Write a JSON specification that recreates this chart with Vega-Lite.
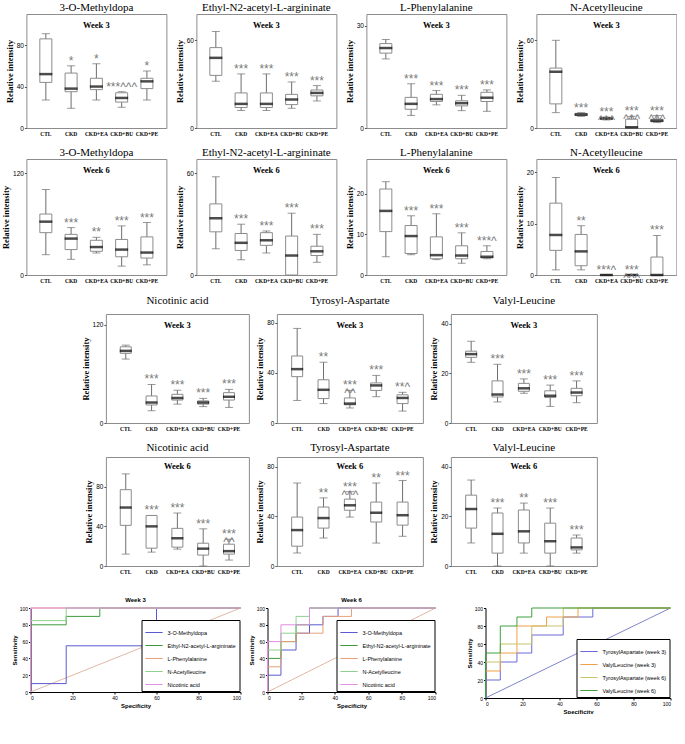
{
"$schema": "https://vega.github.io/schema/vega-lite/v6.json",
"background": "white",
"padding": {"left": 1, "top": 1, "right": 0, "bottom": 0},
"data": {"name": "box"},
"datasets": {
"box": [
{"p":1,"g":"CTL","lo":27,"q1":44,"md":52,"q3":86,"hi":91,"s":""},
{"p":1,"g":"CKD","lo":19,"q1":35,"md":38,"q3":53,"hi":60,"s":"*"},
{"p":1,"g":"CKD+EA","lo":27,"q1":37,"md":40,"q3":48,"hi":62,"s":"*"},
{"p":1,"g":"CKD+BU","lo":20,"q1":25,"md":29,"q3":34,"hi":35,"s":"***^^^"},
{"p":1,"g":"CKD+PE","lo":27,"q1":38,"md":45,"q3":48,"hi":55,"s":"*"},
{"p":2,"g":"CTL","lo":32,"q1":36,"md":48,"q3":55,"hi":66,"s":""},
{"p":2,"g":"CKD","lo":12,"q1":14,"md":16.5,"q3":24,"hi":37,"s":"***"},
{"p":2,"g":"CKD+EA","lo":12,"q1":14,"md":16.5,"q3":24,"hi":37,"s":"***"},
{"p":2,"g":"CKD+BU","lo":13.5,"q1":16,"md":19.5,"q3":23,"hi":31.5,"s":"***"},
{"p":2,"g":"CKD+PE","lo":18.5,"q1":22,"md":24,"q3":26,"hi":29,"s":"***"},
{"p":3,"g":"CTL","lo":20.3,"q1":22,"md":23.5,"q3":24.8,"hi":26,"s":""},
{"p":3,"g":"CKD","lo":3.7,"q1":5.5,"md":7.1,"q3":9,"hi":13,"s":"***"},
{"p":3,"g":"CKD+EA","lo":6.8,"q1":7.8,"md":8.5,"q3":9.9,"hi":11,"s":"***"},
{"p":3,"g":"CKD+BU","lo":5.1,"q1":6.5,"md":7.3,"q3":8,"hi":9.6,"s":"***"},
{"p":3,"g":"CKD+PE","lo":4.9,"q1":7.8,"md":8.9,"q3":10.5,"hi":11.2,"s":"***"},
{"p":4,"g":"CTL","lo":10.5,"q1":16.5,"md":38.5,"q3":41,"hi":60,"s":""},
{"p":4,"g":"CKD","lo":8,"q1":8.5,"md":9.2,"q3":10,"hi":10.5,"s":"***"},
{"p":4,"g":"CKD+EA","lo":5.5,"q1":6,"md":6.5,"q3":7,"hi":7.5,"s":"***\n^^^"},
{"p":4,"g":"CKD+BU","lo":0,"q1":0,"md":0.5,"q3":6,"hi":8,"s":"***\n^^^"},
{"p":4,"g":"CKD+PE","lo":3.7,"q1":4.3,"md":5,"q3":6,"hi":8.5,"s":"***\n^^^"},
{"p":5,"g":"CTL","lo":24,"q1":50,"md":63,"q3":72,"hi":101,"s":""},
{"p":5,"g":"CKD","lo":18.5,"q1":30,"md":43,"q3":48,"hi":56,"s":"***"},
{"p":5,"g":"CKD+EA","lo":26,"q1":28,"md":33,"q3":41,"hi":44.5,"s":"**"},
{"p":5,"g":"CKD+BU","lo":10.5,"q1":21.5,"md":30,"q3":42,"hi":58,"s":"***"},
{"p":5,"g":"CKD+PE","lo":12,"q1":20,"md":26.5,"q3":45,"hi":62,"s":"***"},
{"p":6,"g":"CTL","lo":15.5,"q1":25.5,"md":33.5,"q3":42,"hi":58,"s":""},
{"p":6,"g":"CKD","lo":9,"q1":14.5,"md":19,"q3":24.5,"hi":30,"s":"***"},
{"p":6,"g":"CKD+EA","lo":13,"q1":17.5,"md":20.5,"q3":25,"hi":26,"s":"***"},
{"p":6,"g":"CKD+BU","lo":0,"q1":0,"md":11.5,"q3":23,"hi":36.5,"s":"***"},
{"p":6,"g":"CKD+PE","lo":7.5,"q1":11.5,"md":14,"q3":17,"hi":24,"s":"***"},
{"p":7,"g":"CTL","lo":4.5,"q1":10.7,"md":15.8,"q3":21.2,"hi":23,"s":""},
{"p":7,"g":"CKD","lo":5,"q1":5.3,"md":9.6,"q3":12.2,"hi":14.6,"s":"***"},
{"p":7,"g":"CKD+EA","lo":3.8,"q1":4,"md":4.9,"q3":9.4,"hi":15.1,"s":"***"},
{"p":7,"g":"CKD+BU","lo":2.9,"q1":4,"md":4.8,"q3":7.2,"hi":10.4,"s":"***"},
{"p":7,"g":"CKD+PE","lo":4,"q1":4.2,"md":4.5,"q3":5.8,"hi":7.2,"s":"***^"},
{"p":8,"g":"CTL","lo":1,"q1":4.8,"md":7.8,"q3":14,"hi":19,"s":""},
{"p":8,"g":"CKD","lo":1,"q1":1.8,"md":4.6,"q3":7.9,"hi":9.6,"s":"**"},
{"p":8,"g":"CKD+EA","lo":0,"q1":0,"md":0,"q3":0,"hi":0,"s":"***^"},
{"p":8,"g":"CKD+BU","lo":0,"q1":0,"md":0,"q3":0,"hi":0,"s":"***\n^^^"},
{"p":8,"g":"CKD+PE","lo":0,"q1":0,"md":0,"q3":3.5,"hi":7.7,"s":"***"},
{"p":9,"g":"CTL","lo":78,"q1":85,"md":88,"q3":93,"hi":95,"s":""},
{"p":9,"g":"CKD","lo":15,"q1":22,"md":25,"q3":33,"hi":47,"s":"***"},
{"p":9,"g":"CKD+EA","lo":23,"q1":28,"md":30.5,"q3":35,"hi":40,"s":"***"},
{"p":9,"g":"CKD+BU","lo":20,"q1":23,"md":25,"q3":27,"hi":30,"s":"***"},
{"p":9,"g":"CKD+PE","lo":19,"q1":28,"md":32,"q3":37,"hi":41,"s":"***"},
{"p":10,"g":"CTL","lo":18,"q1":37,"md":43,"q3":53.5,"hi":75.5,"s":""},
{"p":10,"g":"CKD","lo":15.5,"q1":19.5,"md":26.5,"q3":34.5,"hi":48.5,"s":"**"},
{"p":10,"g":"CKD+EA","lo":12,"q1":14.5,"md":15.5,"q3":20,"hi":26,"s":"***\n^^"},
{"p":10,"g":"CKD+BU","lo":21,"q1":26,"md":30,"q3":32,"hi":38,"s":"***"},
{"p":10,"g":"CKD+PE","lo":9.5,"q1":15.5,"md":20,"q3":22.5,"hi":24.5,"s":"**^"},
{"p":11,"g":"CTL","lo":24.5,"q1":26.5,"md":27.8,"q3":29,"hi":33,"s":""},
{"p":11,"g":"CKD","lo":8.5,"q1":10.5,"md":11.5,"q3":17,"hi":23.7,"s":"***"},
{"p":11,"g":"CKD+EA","lo":12,"q1":12.8,"md":14,"q3":16,"hi":17.8,"s":"***"},
{"p":11,"g":"CKD+BU","lo":6.7,"q1":10.3,"md":11,"q3":13,"hi":15.3,"s":"***"},
{"p":11,"g":"CKD+PE","lo":8.2,"q1":11,"md":12.3,"q3":14,"hi":17,"s":"***"},
{"p":12,"g":"CTL","lo":12,"q1":41,"md":59,"q3":77,"hi":93,"s":""},
{"p":12,"g":"CKD","lo":14,"q1":18,"md":40,"q3":51,"hi":51,"s":"***"},
{"p":12,"g":"CKD+EA","lo":17,"q1":19,"md":28,"q3":38,"hi":53.5,"s":"***"},
{"p":12,"g":"CKD+BU","lo":0,"q1":11,"md":17.5,"q3":23,"hi":37.5,"s":"***"},
{"p":12,"g":"CKD+PE","lo":6,"q1":12,"md":15,"q3":22,"hi":27,"s":"***\n^^"},
{"p":13,"g":"CTL","lo":10.5,"q1":16,"md":29,"q3":39.5,"hi":67,"s":""},
{"p":13,"g":"CKD","lo":22.6,"q1":30.6,"md":38.7,"q3":47.6,"hi":55,"s":"**"},
{"p":13,"g":"CKD+EA","lo":39.5,"q1":45,"md":49,"q3":54,"hi":60,"s":"***\n^^^"},
{"p":13,"g":"CKD+BU","lo":18.5,"q1":35.5,"md":43,"q3":51.6,"hi":67,"s":"**"},
{"p":13,"g":"CKD+PE","lo":24,"q1":33,"md":41,"q3":51.6,"hi":69,"s":"***"},
{"p":14,"g":"CTL","lo":9.3,"q1":15.3,"md":23,"q3":28.6,"hi":34.7,"s":""},
{"p":14,"g":"CKD","lo":0,"q1":5.2,"md":13,"q3":21.4,"hi":23.4,"s":"***"},
{"p":14,"g":"CKD+EA","lo":5.2,"q1":9.3,"md":14,"q3":22.6,"hi":25.4,"s":"**"},
{"p":14,"g":"CKD+BU","lo":0,"q1":5.2,"md":10,"q3":17.3,"hi":23.4,"s":"***"},
{"p":14,"g":"CKD+PE","lo":5.2,"q1":6.5,"md":7.5,"q3":11.3,"hi":12.5,"s":"***"}
],
"roc": [
{"c":1,"s":"ref","i":0,"x":0,"y":0},{"c":1,"s":"ref","i":1,"x":100,"y":100},
{"c":1,"s":"3-O-Methyldopa","i":0,"x":0,"y":0},{"c":1,"s":"3-O-Methyldopa","i":1,"x":0,"y":10},{"c":1,"s":"3-O-Methyldopa","i":2,"x":17,"y":10},{"c":1,"s":"3-O-Methyldopa","i":3,"x":17,"y":55},{"c":1,"s":"3-O-Methyldopa","i":4,"x":60,"y":55},{"c":1,"s":"3-O-Methyldopa","i":5,"x":60,"y":100},{"c":1,"s":"3-O-Methyldopa","i":6,"x":100,"y":100},
{"c":1,"s":"Ethyl-N2-acetyl-L-argininate","i":0,"x":0,"y":0},{"c":1,"s":"Ethyl-N2-acetyl-L-argininate","i":1,"x":0,"y":80},{"c":1,"s":"Ethyl-N2-acetyl-L-argininate","i":2,"x":17,"y":80},{"c":1,"s":"Ethyl-N2-acetyl-L-argininate","i":3,"x":17,"y":90},{"c":1,"s":"Ethyl-N2-acetyl-L-argininate","i":4,"x":33,"y":90},{"c":1,"s":"Ethyl-N2-acetyl-L-argininate","i":5,"x":33,"y":100},{"c":1,"s":"Ethyl-N2-acetyl-L-argininate","i":6,"x":100,"y":100},
{"c":1,"s":"L-Phenylalanine","i":0,"x":0,"y":0},{"c":1,"s":"L-Phenylalanine","i":1,"x":0,"y":100},{"c":1,"s":"L-Phenylalanine","i":2,"x":100,"y":100},
{"c":1,"s":"N-Acetylleucine","i":0,"x":0,"y":0},{"c":1,"s":"N-Acetylleucine","i":1,"x":0,"y":85},{"c":1,"s":"N-Acetylleucine","i":2,"x":17,"y":85},{"c":1,"s":"N-Acetylleucine","i":3,"x":17,"y":100},{"c":1,"s":"N-Acetylleucine","i":4,"x":100,"y":100},
{"c":1,"s":"Nicotinic acid","i":0,"x":0,"y":0},{"c":1,"s":"Nicotinic acid","i":1,"x":0,"y":100},{"c":1,"s":"Nicotinic acid","i":2,"x":100,"y":100},
{"c":2,"s":"ref","i":0,"x":0,"y":0},{"c":2,"s":"ref","i":1,"x":100,"y":100},
{"c":2,"s":"3-O-Methyldopa","i":0,"x":0,"y":0},{"c":2,"s":"3-O-Methyldopa","i":1,"x":0,"y":20},{"c":2,"s":"3-O-Methyldopa","i":2,"x":8,"y":20},{"c":2,"s":"3-O-Methyldopa","i":3,"x":8,"y":50},{"c":2,"s":"3-O-Methyldopa","i":4,"x":17,"y":50},{"c":2,"s":"3-O-Methyldopa","i":5,"x":17,"y":70},{"c":2,"s":"3-O-Methyldopa","i":6,"x":25,"y":70},{"c":2,"s":"3-O-Methyldopa","i":7,"x":25,"y":80},{"c":2,"s":"3-O-Methyldopa","i":8,"x":33,"y":80},{"c":2,"s":"3-O-Methyldopa","i":9,"x":33,"y":90},{"c":2,"s":"3-O-Methyldopa","i":10,"x":42,"y":90},{"c":2,"s":"3-O-Methyldopa","i":11,"x":42,"y":100},{"c":2,"s":"3-O-Methyldopa","i":12,"x":100,"y":100},
{"c":2,"s":"Ethyl-N2-acetyl-L-argininate","i":0,"x":0,"y":0},{"c":2,"s":"Ethyl-N2-acetyl-L-argininate","i":1,"x":0,"y":40},{"c":2,"s":"Ethyl-N2-acetyl-L-argininate","i":2,"x":8,"y":40},{"c":2,"s":"Ethyl-N2-acetyl-L-argininate","i":3,"x":8,"y":60},{"c":2,"s":"Ethyl-N2-acetyl-L-argininate","i":4,"x":17,"y":60},{"c":2,"s":"Ethyl-N2-acetyl-L-argininate","i":5,"x":17,"y":80},{"c":2,"s":"Ethyl-N2-acetyl-L-argininate","i":6,"x":25,"y":80},{"c":2,"s":"Ethyl-N2-acetyl-L-argininate","i":7,"x":25,"y":100},{"c":2,"s":"Ethyl-N2-acetyl-L-argininate","i":8,"x":100,"y":100},
{"c":2,"s":"L-Phenylalanine","i":0,"x":0,"y":0},{"c":2,"s":"L-Phenylalanine","i":1,"x":0,"y":30},{"c":2,"s":"L-Phenylalanine","i":2,"x":8,"y":30},{"c":2,"s":"L-Phenylalanine","i":3,"x":8,"y":60},{"c":2,"s":"L-Phenylalanine","i":4,"x":17,"y":60},{"c":2,"s":"L-Phenylalanine","i":5,"x":17,"y":70},{"c":2,"s":"L-Phenylalanine","i":6,"x":33,"y":70},{"c":2,"s":"L-Phenylalanine","i":7,"x":33,"y":90},{"c":2,"s":"L-Phenylalanine","i":8,"x":50,"y":90},{"c":2,"s":"L-Phenylalanine","i":9,"x":50,"y":100},{"c":2,"s":"L-Phenylalanine","i":10,"x":100,"y":100},
{"c":2,"s":"N-Acetylleucine","i":0,"x":0,"y":0},{"c":2,"s":"N-Acetylleucine","i":1,"x":0,"y":50},{"c":2,"s":"N-Acetylleucine","i":2,"x":8,"y":50},{"c":2,"s":"N-Acetylleucine","i":3,"x":8,"y":70},{"c":2,"s":"N-Acetylleucine","i":4,"x":17,"y":70},{"c":2,"s":"N-Acetylleucine","i":5,"x":17,"y":90},{"c":2,"s":"N-Acetylleucine","i":6,"x":25,"y":90},{"c":2,"s":"N-Acetylleucine","i":7,"x":25,"y":100},{"c":2,"s":"N-Acetylleucine","i":8,"x":100,"y":100},
{"c":2,"s":"Nicotinic acid","i":0,"x":0,"y":0},{"c":2,"s":"Nicotinic acid","i":1,"x":0,"y":60},{"c":2,"s":"Nicotinic acid","i":2,"x":8,"y":60},{"c":2,"s":"Nicotinic acid","i":3,"x":8,"y":80},{"c":2,"s":"Nicotinic acid","i":4,"x":25,"y":80},{"c":2,"s":"Nicotinic acid","i":5,"x":25,"y":100},{"c":2,"s":"Nicotinic acid","i":6,"x":100,"y":100},
{"c":3,"s":"ref","i":0,"x":0,"y":0},{"c":3,"s":"ref","i":1,"x":100,"y":100},
{"c":3,"s":"TyrosylAspartate (week 3)","i":0,"x":0,"y":0},{"c":3,"s":"TyrosylAspartate (week 3)","i":1,"x":0,"y":20},{"c":3,"s":"TyrosylAspartate (week 3)","i":2,"x":8,"y":20},{"c":3,"s":"TyrosylAspartate (week 3)","i":3,"x":8,"y":40},{"c":3,"s":"TyrosylAspartate (week 3)","i":4,"x":17,"y":40},{"c":3,"s":"TyrosylAspartate (week 3)","i":5,"x":17,"y":50},{"c":3,"s":"TyrosylAspartate (week 3)","i":6,"x":25,"y":50},{"c":3,"s":"TyrosylAspartate (week 3)","i":7,"x":25,"y":70},{"c":3,"s":"TyrosylAspartate (week 3)","i":8,"x":42,"y":70},{"c":3,"s":"TyrosylAspartate (week 3)","i":9,"x":42,"y":90},{"c":3,"s":"TyrosylAspartate (week 3)","i":10,"x":58,"y":90},{"c":3,"s":"TyrosylAspartate (week 3)","i":11,"x":58,"y":100},{"c":3,"s":"TyrosylAspartate (week 3)","i":12,"x":100,"y":100},
{"c":3,"s":"ValylLeucine (week 3)","i":0,"x":0,"y":0},{"c":3,"s":"ValylLeucine (week 3)","i":1,"x":0,"y":30},{"c":3,"s":"ValylLeucine (week 3)","i":2,"x":8,"y":30},{"c":3,"s":"ValylLeucine (week 3)","i":3,"x":8,"y":50},{"c":3,"s":"ValylLeucine (week 3)","i":4,"x":17,"y":50},{"c":3,"s":"ValylLeucine (week 3)","i":5,"x":17,"y":80},{"c":3,"s":"ValylLeucine (week 3)","i":6,"x":33,"y":80},{"c":3,"s":"ValylLeucine (week 3)","i":7,"x":33,"y":90},{"c":3,"s":"ValylLeucine (week 3)","i":8,"x":50,"y":90},{"c":3,"s":"ValylLeucine (week 3)","i":9,"x":50,"y":100},{"c":3,"s":"ValylLeucine (week 3)","i":10,"x":100,"y":100},
{"c":3,"s":"TyrosylAspartate (week 6)","i":0,"x":0,"y":0},{"c":3,"s":"TyrosylAspartate (week 6)","i":1,"x":0,"y":40},{"c":3,"s":"TyrosylAspartate (week 6)","i":2,"x":8,"y":40},{"c":3,"s":"TyrosylAspartate (week 6)","i":3,"x":8,"y":60},{"c":3,"s":"TyrosylAspartate (week 6)","i":4,"x":25,"y":60},{"c":3,"s":"TyrosylAspartate (week 6)","i":5,"x":25,"y":80},{"c":3,"s":"TyrosylAspartate (week 6)","i":6,"x":42,"y":80},{"c":3,"s":"TyrosylAspartate (week 6)","i":7,"x":42,"y":100},{"c":3,"s":"TyrosylAspartate (week 6)","i":8,"x":100,"y":100},
{"c":3,"s":"ValylLeucine (week 6)","i":0,"x":0,"y":0},{"c":3,"s":"ValylLeucine (week 6)","i":1,"x":0,"y":50},{"c":3,"s":"ValylLeucine (week 6)","i":2,"x":8,"y":50},{"c":3,"s":"ValylLeucine (week 6)","i":3,"x":8,"y":80},{"c":3,"s":"ValylLeucine (week 6)","i":4,"x":17,"y":80},{"c":3,"s":"ValylLeucine (week 6)","i":5,"x":17,"y":90},{"c":3,"s":"ValylLeucine (week 6)","i":6,"x":25,"y":90},{"c":3,"s":"ValylLeucine (week 6)","i":7,"x":25,"y":100},{"c":3,"s":"ValylLeucine (week 6)","i":8,"x":100,"y":100}
]
},
"config": {
"view": {"stroke": "#8c8c8c", "strokeWidth": 1},
"axisX": {"labelFont": "Liberation Serif", "labelFontSize": 5.5, "labelFontWeight": "bold", "labelAngle": 0, "ticks": false, "domain": false, "labelPadding": 3, "labelColor": "black", "grid": false},
"axisY": {"labelFont": "Liberation Sans", "labelFontSize": 6.5, "labelFontWeight": "normal", "labelOverlap": false, "tickSize": 2, "tickColor": "#555", "domain": false, "grid": false, "labelPadding": 1, "labelColor": "black", "titleFont": "Liberation Serif", "titleFontSize": 8.5, "titleFontWeight": "bold", "titleColor": "black", "titlePadding": 2},
"title": {"font": "Liberation Serif", "fontSize": 11, "fontWeight": "normal", "color": "black", "subtitleFont": "Liberation Serif", "subtitleFontSize": 8.5, "subtitleFontWeight": "bold", "subtitleColor": "black", "subtitlePadding": 8, "offset": -15, "anchor": "middle"}
},
"resolve": {"scale": {"color": "independent"}},
"spacing": 22,
"center": true,
"vconcat": [
{"spacing": 9, "center": true, "vconcat": [
{"hconcat": [
{"title": {"text": "3-O-Methyldopa", "subtitle": "Week 3"}, "width": 140, "height": 114, "transform": [{"filter": "datum.p == 1"}],
 "encoding": {"x": {"field": "g", "type": "nominal", "sort": null, "title": null, "scale": {"paddingInner": 0, "paddingOuter": 0.27}}},
 "layer": [
  {"mark": {"type": "rule", "color": "#6e6e6e"}, "encoding": {"y": {"field": "lo", "type": "quantitative", "title": "Relative intensity", "scale": {"domain": [0, 110], "nice": false}, "axis": {"labelOverlap": false, "values": [0, 20, 40, 60, 80, 100]}}, "y2": {"field": "hi"}}},
  {"mark": {"type": "tick", "color": "#6e6e6e", "size": 8, "thickness": 1}, "encoding": {"y": {"field": "lo", "type": "quantitative"}}},
  {"mark": {"type": "tick", "color": "#6e6e6e", "size": 8, "thickness": 1}, "encoding": {"y": {"field": "hi", "type": "quantitative"}}},
  {"mark": {"type": "bar", "fill": "white", "stroke": "#8c8c8c", "strokeWidth": 1, "width": 12}, "encoding": {"y": {"field": "q1", "type": "quantitative"}, "y2": {"field": "q3"}}},
  {"mark": {"type": "tick", "color": "black", "size": 13, "thickness": 2.5}, "encoding": {"y": {"field": "md", "type": "quantitative"}}},
  {"mark": {"type": "text", "color": "#7a7a7a", "font": "Liberation Sans", "fontSize": 12, "baseline": "bottom", "dy": 2, "lineBreak": "\n", "lineHeight": 8}, "encoding": {"y": {"field": "hi", "type": "quantitative"}, "text": {"field": "s"}}}
 ]},
{"title": {"text": "Ethyl-N2-acetyl-L-argininate", "subtitle": "Week 3"}, "width": 140, "height": 114, "transform": [{"filter": "datum.p == 2"}],
 "encoding": {"x": {"field": "g", "type": "nominal", "sort": null, "title": null, "scale": {"paddingInner": 0, "paddingOuter": 0.27}}},
 "layer": [
  {"mark": {"type": "rule", "color": "#6e6e6e"}, "encoding": {"y": {"field": "lo", "type": "quantitative", "title": "Relative intensity", "scale": {"domain": [0, 78], "nice": false}, "axis": {"labelOverlap": false, "values": [0, 20, 40, 60]}}, "y2": {"field": "hi"}}},
  {"mark": {"type": "tick", "color": "#6e6e6e", "size": 8, "thickness": 1}, "encoding": {"y": {"field": "lo", "type": "quantitative"}}},
  {"mark": {"type": "tick", "color": "#6e6e6e", "size": 8, "thickness": 1}, "encoding": {"y": {"field": "hi", "type": "quantitative"}}},
  {"mark": {"type": "bar", "fill": "white", "stroke": "#8c8c8c", "strokeWidth": 1, "width": 12}, "encoding": {"y": {"field": "q1", "type": "quantitative"}, "y2": {"field": "q3"}}},
  {"mark": {"type": "tick", "color": "black", "size": 13, "thickness": 2.5}, "encoding": {"y": {"field": "md", "type": "quantitative"}}},
  {"mark": {"type": "text", "color": "#7a7a7a", "font": "Liberation Sans", "fontSize": 12, "baseline": "bottom", "dy": 2, "lineBreak": "\n", "lineHeight": 8}, "encoding": {"y": {"field": "hi", "type": "quantitative"}, "text": {"field": "s"}}}
 ]},
{"title": {"text": "L-Phenylalanine", "subtitle": "Week 3"}, "width": 140, "height": 114, "transform": [{"filter": "datum.p == 3"}],
 "encoding": {"x": {"field": "g", "type": "nominal", "sort": null, "title": null, "scale": {"paddingInner": 0, "paddingOuter": 0.27}}},
 "layer": [
  {"mark": {"type": "rule", "color": "#6e6e6e"}, "encoding": {"y": {"field": "lo", "type": "quantitative", "title": "Relative intensity", "scale": {"domain": [0, 33.5], "nice": false}, "axis": {"labelOverlap": false, "values": [0, 5, 10, 15, 20, 25, 30]}}, "y2": {"field": "hi"}}},
  {"mark": {"type": "tick", "color": "#6e6e6e", "size": 8, "thickness": 1}, "encoding": {"y": {"field": "lo", "type": "quantitative"}}},
  {"mark": {"type": "tick", "color": "#6e6e6e", "size": 8, "thickness": 1}, "encoding": {"y": {"field": "hi", "type": "quantitative"}}},
  {"mark": {"type": "bar", "fill": "white", "stroke": "#8c8c8c", "strokeWidth": 1, "width": 12}, "encoding": {"y": {"field": "q1", "type": "quantitative"}, "y2": {"field": "q3"}}},
  {"mark": {"type": "tick", "color": "black", "size": 13, "thickness": 2.5}, "encoding": {"y": {"field": "md", "type": "quantitative"}}},
  {"mark": {"type": "text", "color": "#7a7a7a", "font": "Liberation Sans", "fontSize": 12, "baseline": "bottom", "dy": 2, "lineBreak": "\n", "lineHeight": 8}, "encoding": {"y": {"field": "hi", "type": "quantitative"}, "text": {"field": "s"}}}
 ]},
{"title": {"text": "N-Acetylleucine", "subtitle": "Week 3"}, "width": 140, "height": 114, "transform": [{"filter": "datum.p == 4"}],
 "encoding": {"x": {"field": "g", "type": "nominal", "sort": null, "title": null, "scale": {"paddingInner": 0, "paddingOuter": 0.27}}},
 "layer": [
  {"mark": {"type": "rule", "color": "#6e6e6e"}, "encoding": {"y": {"field": "lo", "type": "quantitative", "title": "Relative intensity", "scale": {"domain": [0, 78], "nice": false}, "axis": {"labelOverlap": false, "values": [0, 20, 40, 60]}}, "y2": {"field": "hi"}}},
  {"mark": {"type": "tick", "color": "#6e6e6e", "size": 8, "thickness": 1}, "encoding": {"y": {"field": "lo", "type": "quantitative"}}},
  {"mark": {"type": "tick", "color": "#6e6e6e", "size": 8, "thickness": 1}, "encoding": {"y": {"field": "hi", "type": "quantitative"}}},
  {"mark": {"type": "bar", "fill": "white", "stroke": "#8c8c8c", "strokeWidth": 1, "width": 12}, "encoding": {"y": {"field": "q1", "type": "quantitative"}, "y2": {"field": "q3"}}},
  {"mark": {"type": "tick", "color": "black", "size": 13, "thickness": 2.5}, "encoding": {"y": {"field": "md", "type": "quantitative"}}},
  {"mark": {"type": "text", "color": "#7a7a7a", "font": "Liberation Sans", "fontSize": 12, "baseline": "bottom", "dy": 2, "lineBreak": "\n", "lineHeight": 8}, "encoding": {"y": {"field": "hi", "type": "quantitative"}, "text": {"field": "s"}}}
 ]}
], "spacing": 7},
{"hconcat": [
{"title": {"text": "3-O-Methyldopa", "subtitle": "Week 6"}, "width": 140, "height": 116, "transform": [{"filter": "datum.p == 5"}],
 "encoding": {"x": {"field": "g", "type": "nominal", "sort": null, "title": null, "scale": {"paddingInner": 0, "paddingOuter": 0.27}}},
 "layer": [
  {"mark": {"type": "rule", "color": "#6e6e6e"}, "encoding": {"y": {"field": "lo", "type": "quantitative", "title": "Relative intensity", "scale": {"domain": [0, 137], "nice": false}, "axis": {"labelOverlap": false, "values": [0, 20, 40, 60, 80, 100, 120]}}, "y2": {"field": "hi"}}},
  {"mark": {"type": "tick", "color": "#6e6e6e", "size": 8, "thickness": 1}, "encoding": {"y": {"field": "lo", "type": "quantitative"}}},
  {"mark": {"type": "tick", "color": "#6e6e6e", "size": 8, "thickness": 1}, "encoding": {"y": {"field": "hi", "type": "quantitative"}}},
  {"mark": {"type": "bar", "fill": "white", "stroke": "#8c8c8c", "strokeWidth": 1, "width": 12}, "encoding": {"y": {"field": "q1", "type": "quantitative"}, "y2": {"field": "q3"}}},
  {"mark": {"type": "tick", "color": "black", "size": 13, "thickness": 2.5}, "encoding": {"y": {"field": "md", "type": "quantitative"}}},
  {"mark": {"type": "text", "color": "#7a7a7a", "font": "Liberation Sans", "fontSize": 12, "baseline": "bottom", "dy": 2, "lineBreak": "\n", "lineHeight": 8}, "encoding": {"y": {"field": "hi", "type": "quantitative"}, "text": {"field": "s"}}}
 ]},
{"title": {"text": "Ethyl-N2-acetyl-L-argininate", "subtitle": "Week 6"}, "width": 140, "height": 116, "transform": [{"filter": "datum.p == 6"}],
 "encoding": {"x": {"field": "g", "type": "nominal", "sort": null, "title": null, "scale": {"paddingInner": 0, "paddingOuter": 0.27}}},
 "layer": [
  {"mark": {"type": "rule", "color": "#6e6e6e"}, "encoding": {"y": {"field": "lo", "type": "quantitative", "title": "Relative intensity", "scale": {"domain": [0, 68.5], "nice": false}, "axis": {"labelOverlap": false, "values": [0, 10, 20, 30, 40, 50, 60]}}, "y2": {"field": "hi"}}},
  {"mark": {"type": "tick", "color": "#6e6e6e", "size": 8, "thickness": 1}, "encoding": {"y": {"field": "lo", "type": "quantitative"}}},
  {"mark": {"type": "tick", "color": "#6e6e6e", "size": 8, "thickness": 1}, "encoding": {"y": {"field": "hi", "type": "quantitative"}}},
  {"mark": {"type": "bar", "fill": "white", "stroke": "#8c8c8c", "strokeWidth": 1, "width": 12}, "encoding": {"y": {"field": "q1", "type": "quantitative"}, "y2": {"field": "q3"}}},
  {"mark": {"type": "tick", "color": "black", "size": 13, "thickness": 2.5}, "encoding": {"y": {"field": "md", "type": "quantitative"}}},
  {"mark": {"type": "text", "color": "#7a7a7a", "font": "Liberation Sans", "fontSize": 12, "baseline": "bottom", "dy": 2, "lineBreak": "\n", "lineHeight": 8}, "encoding": {"y": {"field": "hi", "type": "quantitative"}, "text": {"field": "s"}}}
 ]},
{"title": {"text": "L-Phenylalanine", "subtitle": "Week 6"}, "width": 140, "height": 116, "transform": [{"filter": "datum.p == 7"}],
 "encoding": {"x": {"field": "g", "type": "nominal", "sort": null, "title": null, "scale": {"paddingInner": 0, "paddingOuter": 0.27}}},
 "layer": [
  {"mark": {"type": "rule", "color": "#6e6e6e"}, "encoding": {"y": {"field": "lo", "type": "quantitative", "title": "Relative intensity", "scale": {"domain": [0, 28.6], "nice": false}, "axis": {"labelOverlap": false, "values": [0, 5, 10, 15, 20, 25]}}, "y2": {"field": "hi"}}},
  {"mark": {"type": "tick", "color": "#6e6e6e", "size": 8, "thickness": 1}, "encoding": {"y": {"field": "lo", "type": "quantitative"}}},
  {"mark": {"type": "tick", "color": "#6e6e6e", "size": 8, "thickness": 1}, "encoding": {"y": {"field": "hi", "type": "quantitative"}}},
  {"mark": {"type": "bar", "fill": "white", "stroke": "#8c8c8c", "strokeWidth": 1, "width": 12}, "encoding": {"y": {"field": "q1", "type": "quantitative"}, "y2": {"field": "q3"}}},
  {"mark": {"type": "tick", "color": "black", "size": 13, "thickness": 2.5}, "encoding": {"y": {"field": "md", "type": "quantitative"}}},
  {"mark": {"type": "text", "color": "#7a7a7a", "font": "Liberation Sans", "fontSize": 12, "baseline": "bottom", "dy": 2, "lineBreak": "\n", "lineHeight": 8}, "encoding": {"y": {"field": "hi", "type": "quantitative"}, "text": {"field": "s"}}}
 ]},
{"title": {"text": "N-Acetylleucine", "subtitle": "Week 6"}, "width": 140, "height": 116, "transform": [{"filter": "datum.p == 8"}],
 "encoding": {"x": {"field": "g", "type": "nominal", "sort": null, "title": null, "scale": {"paddingInner": 0, "paddingOuter": 0.27}}},
 "layer": [
  {"mark": {"type": "rule", "color": "#6e6e6e"}, "encoding": {"y": {"field": "lo", "type": "quantitative", "title": "Relative intensity", "scale": {"domain": [0, 22.6], "nice": false}, "axis": {"labelOverlap": false, "values": [0, 5, 10, 15, 20]}}, "y2": {"field": "hi"}}},
  {"mark": {"type": "tick", "color": "#6e6e6e", "size": 8, "thickness": 1}, "encoding": {"y": {"field": "lo", "type": "quantitative"}}},
  {"mark": {"type": "tick", "color": "#6e6e6e", "size": 8, "thickness": 1}, "encoding": {"y": {"field": "hi", "type": "quantitative"}}},
  {"mark": {"type": "bar", "fill": "white", "stroke": "#8c8c8c", "strokeWidth": 1, "width": 12}, "encoding": {"y": {"field": "q1", "type": "quantitative"}, "y2": {"field": "q3"}}},
  {"mark": {"type": "tick", "color": "black", "size": 13, "thickness": 2.5}, "encoding": {"y": {"field": "md", "type": "quantitative"}}},
  {"mark": {"type": "text", "color": "#7a7a7a", "font": "Liberation Sans", "fontSize": 12, "baseline": "bottom", "dy": 2, "lineBreak": "\n", "lineHeight": 8}, "encoding": {"y": {"field": "hi", "type": "quantitative"}, "text": {"field": "s"}}}
 ]}
], "spacing": 7},
{"hconcat": [
{"title": {"text": "Nicotinic acid", "subtitle": "Week 3", "subtitlePadding": 15, "offset": -15}, "width": 143, "height": 109, "transform": [{"filter": "datum.p == 9"}],
 "encoding": {"x": {"field": "g", "type": "nominal", "sort": null, "title": null, "scale": {"paddingInner": 0, "paddingOuter": 0.27}}},
 "layer": [
  {"mark": {"type": "rule", "color": "#6e6e6e"}, "encoding": {"y": {"field": "lo", "type": "quantitative", "title": "Relative intensity", "scale": {"domain": [0, 133], "nice": false}, "axis": {"labelOverlap": false, "values": [0, 20, 40, 60, 80, 100, 120]}}, "y2": {"field": "hi"}}},
  {"mark": {"type": "tick", "color": "#6e6e6e", "size": 8, "thickness": 1}, "encoding": {"y": {"field": "lo", "type": "quantitative"}}},
  {"mark": {"type": "tick", "color": "#6e6e6e", "size": 8, "thickness": 1}, "encoding": {"y": {"field": "hi", "type": "quantitative"}}},
  {"mark": {"type": "bar", "fill": "white", "stroke": "#8c8c8c", "strokeWidth": 1, "width": 11}, "encoding": {"y": {"field": "q1", "type": "quantitative"}, "y2": {"field": "q3"}}},
  {"mark": {"type": "tick", "color": "black", "size": 12, "thickness": 2.5}, "encoding": {"y": {"field": "md", "type": "quantitative"}}},
  {"mark": {"type": "text", "color": "#7a7a7a", "font": "Liberation Sans", "fontSize": 12, "baseline": "bottom", "dy": 2, "lineBreak": "\n", "lineHeight": 8}, "encoding": {"y": {"field": "hi", "type": "quantitative"}, "text": {"field": "s"}}}
 ]},
{"title": {"text": "Tyrosyl-Aspartate", "subtitle": "Week 3", "subtitlePadding": 15, "offset": -15}, "width": 146, "height": 109, "transform": [{"filter": "datum.p == 10"}],
 "encoding": {"x": {"field": "g", "type": "nominal", "sort": null, "title": null, "scale": {"paddingInner": 0, "paddingOuter": 0.27}}},
 "layer": [
  {"mark": {"type": "rule", "color": "#6e6e6e"}, "encoding": {"y": {"field": "lo", "type": "quantitative", "title": "Relative intensity", "scale": {"domain": [0, 87], "nice": false}, "axis": {"labelOverlap": false, "values": [0, 20, 40, 60, 80]}}, "y2": {"field": "hi"}}},
  {"mark": {"type": "tick", "color": "#6e6e6e", "size": 8, "thickness": 1}, "encoding": {"y": {"field": "lo", "type": "quantitative"}}},
  {"mark": {"type": "tick", "color": "#6e6e6e", "size": 8, "thickness": 1}, "encoding": {"y": {"field": "hi", "type": "quantitative"}}},
  {"mark": {"type": "bar", "fill": "white", "stroke": "#8c8c8c", "strokeWidth": 1, "width": 11}, "encoding": {"y": {"field": "q1", "type": "quantitative"}, "y2": {"field": "q3"}}},
  {"mark": {"type": "tick", "color": "black", "size": 12, "thickness": 2.5}, "encoding": {"y": {"field": "md", "type": "quantitative"}}},
  {"mark": {"type": "text", "color": "#7a7a7a", "font": "Liberation Sans", "fontSize": 12, "baseline": "bottom", "dy": 2, "lineBreak": "\n", "lineHeight": 8}, "encoding": {"y": {"field": "hi", "type": "quantitative"}, "text": {"field": "s"}}}
 ]},
{"title": {"text": "Valyl-Leucine", "subtitle": "Week 3", "subtitlePadding": 15, "offset": -15}, "width": 146, "height": 109, "transform": [{"filter": "datum.p == 11"}],
 "encoding": {"x": {"field": "g", "type": "nominal", "sort": null, "title": null, "scale": {"paddingInner": 0, "paddingOuter": 0.27}}},
 "layer": [
  {"mark": {"type": "rule", "color": "#6e6e6e"}, "encoding": {"y": {"field": "lo", "type": "quantitative", "title": "Relative intensity", "scale": {"domain": [0, 44], "nice": false}, "axis": {"labelOverlap": false, "values": [0, 10, 20, 30, 40]}}, "y2": {"field": "hi"}}},
  {"mark": {"type": "tick", "color": "#6e6e6e", "size": 8, "thickness": 1}, "encoding": {"y": {"field": "lo", "type": "quantitative"}}},
  {"mark": {"type": "tick", "color": "#6e6e6e", "size": 8, "thickness": 1}, "encoding": {"y": {"field": "hi", "type": "quantitative"}}},
  {"mark": {"type": "bar", "fill": "white", "stroke": "#8c8c8c", "strokeWidth": 1, "width": 11}, "encoding": {"y": {"field": "q1", "type": "quantitative"}, "y2": {"field": "q3"}}},
  {"mark": {"type": "tick", "color": "black", "size": 12, "thickness": 2.5}, "encoding": {"y": {"field": "md", "type": "quantitative"}}},
  {"mark": {"type": "text", "color": "#7a7a7a", "font": "Liberation Sans", "fontSize": 12, "baseline": "bottom", "dy": 2, "lineBreak": "\n", "lineHeight": 8}, "encoding": {"y": {"field": "hi", "type": "quantitative"}, "text": {"field": "s"}}}
 ]}
], "spacing": 5},
{"hconcat": [
{"title": {"text": "Nicotinic acid", "subtitle": "Week 6", "subtitlePadding": 9, "offset": -13}, "width": 143, "height": 109, "transform": [{"filter": "datum.p == 12"}],
 "encoding": {"x": {"field": "g", "type": "nominal", "sort": null, "title": null, "scale": {"paddingInner": 0, "paddingOuter": 0.27}}},
 "layer": [
  {"mark": {"type": "rule", "color": "#6e6e6e"}, "encoding": {"y": {"field": "lo", "type": "quantitative", "title": "Relative intensity", "scale": {"domain": [0, 110], "nice": false}, "axis": {"labelOverlap": false, "values": [0, 20, 40, 60, 80, 100]}}, "y2": {"field": "hi"}}},
  {"mark": {"type": "tick", "color": "#6e6e6e", "size": 8, "thickness": 1}, "encoding": {"y": {"field": "lo", "type": "quantitative"}}},
  {"mark": {"type": "tick", "color": "#6e6e6e", "size": 8, "thickness": 1}, "encoding": {"y": {"field": "hi", "type": "quantitative"}}},
  {"mark": {"type": "bar", "fill": "white", "stroke": "#8c8c8c", "strokeWidth": 1, "width": 11}, "encoding": {"y": {"field": "q1", "type": "quantitative"}, "y2": {"field": "q3"}}},
  {"mark": {"type": "tick", "color": "black", "size": 12, "thickness": 2.5}, "encoding": {"y": {"field": "md", "type": "quantitative"}}},
  {"mark": {"type": "text", "color": "#7a7a7a", "font": "Liberation Sans", "fontSize": 12, "baseline": "bottom", "dy": 2, "lineBreak": "\n", "lineHeight": 8}, "encoding": {"y": {"field": "hi", "type": "quantitative"}, "text": {"field": "s"}}}
 ]},
{"title": {"text": "Tyrosyl-Aspartate", "subtitle": "Week 6", "subtitlePadding": 9, "offset": -13}, "width": 146, "height": 109, "transform": [{"filter": "datum.p == 13"}],
 "encoding": {"x": {"field": "g", "type": "nominal", "sort": null, "title": null, "scale": {"paddingInner": 0, "paddingOuter": 0.27}}},
 "layer": [
  {"mark": {"type": "rule", "color": "#6e6e6e"}, "encoding": {"y": {"field": "lo", "type": "quantitative", "title": "Relative intensity", "scale": {"domain": [0, 88], "nice": false}, "axis": {"labelOverlap": false, "values": [0, 20, 40, 60, 80]}}, "y2": {"field": "hi"}}},
  {"mark": {"type": "tick", "color": "#6e6e6e", "size": 8, "thickness": 1}, "encoding": {"y": {"field": "lo", "type": "quantitative"}}},
  {"mark": {"type": "tick", "color": "#6e6e6e", "size": 8, "thickness": 1}, "encoding": {"y": {"field": "hi", "type": "quantitative"}}},
  {"mark": {"type": "bar", "fill": "white", "stroke": "#8c8c8c", "strokeWidth": 1, "width": 11}, "encoding": {"y": {"field": "q1", "type": "quantitative"}, "y2": {"field": "q3"}}},
  {"mark": {"type": "tick", "color": "black", "size": 12, "thickness": 2.5}, "encoding": {"y": {"field": "md", "type": "quantitative"}}},
  {"mark": {"type": "text", "color": "#7a7a7a", "font": "Liberation Sans", "fontSize": 12, "baseline": "bottom", "dy": 2, "lineBreak": "\n", "lineHeight": 8}, "encoding": {"y": {"field": "hi", "type": "quantitative"}, "text": {"field": "s"}}}
 ]},
{"title": {"text": "Valyl-Leucine", "subtitle": "Week 6", "subtitlePadding": 9, "offset": -13}, "width": 146, "height": 109, "transform": [{"filter": "datum.p == 14"}],
 "encoding": {"x": {"field": "g", "type": "nominal", "sort": null, "title": null, "scale": {"paddingInner": 0, "paddingOuter": 0.27}}},
 "layer": [
  {"mark": {"type": "rule", "color": "#6e6e6e"}, "encoding": {"y": {"field": "lo", "type": "quantitative", "title": "Relative intensity", "scale": {"domain": [0, 44], "nice": false}, "axis": {"labelOverlap": false, "values": [0, 10, 20, 30, 40]}}, "y2": {"field": "hi"}}},
  {"mark": {"type": "tick", "color": "#6e6e6e", "size": 8, "thickness": 1}, "encoding": {"y": {"field": "lo", "type": "quantitative"}}},
  {"mark": {"type": "tick", "color": "#6e6e6e", "size": 8, "thickness": 1}, "encoding": {"y": {"field": "hi", "type": "quantitative"}}},
  {"mark": {"type": "bar", "fill": "white", "stroke": "#8c8c8c", "strokeWidth": 1, "width": 11}, "encoding": {"y": {"field": "q1", "type": "quantitative"}, "y2": {"field": "q3"}}},
  {"mark": {"type": "tick", "color": "black", "size": 12, "thickness": 2.5}, "encoding": {"y": {"field": "md", "type": "quantitative"}}},
  {"mark": {"type": "text", "color": "#7a7a7a", "font": "Liberation Sans", "fontSize": 12, "baseline": "bottom", "dy": 2, "lineBreak": "\n", "lineHeight": 8}, "encoding": {"y": {"field": "hi", "type": "quantitative"}, "text": {"field": "s"}}}
 ]}
], "spacing": 5}
]},
{"hconcat": [
 {"hconcat": [
  {"title": {"text": "Week 3", "font": "Liberation Sans", "fontSize": 6, "fontWeight": "bold", "offset": 3, "subtitlePadding": 0}, "width": 210, "height": 84, "view": {"stroke": null}, "data": {"name": "roc"}, "transform": [{"filter": "datum.c == 1"}],
   "encoding": {
    "x": {"field": "x", "type": "quantitative", "title": "Specificity", "scale": {"domain": [0, 100], "nice": false}, "axis": {"values": [0, 20, 40, 60, 80, 100], "labelOverlap": false, "domain": true, "domainColor": "#000", "ticks": true, "tickSize": 2, "tickColor": "#000", "labelFont": "Liberation Sans", "labelFontSize": 5, "labelFontWeight": "normal", "labelPadding": 1, "titleFont": "Liberation Sans", "titleFontSize": 6, "titleFontWeight": "bold", "titlePadding": 2}},
    "y": {"field": "y", "type": "quantitative", "title": "Sensitivity", "scale": {"domain": [0, 100], "nice": false}, "axis": {"values": [0, 20, 40, 60, 80, 100], "labelOverlap": false, "domain": true, "domainColor": "#000", "ticks": true, "tickSize": 2, "tickColor": "#000", "labelFont": "Liberation Sans", "labelFontSize": 5, "labelFontWeight": "normal", "labelColor": "black", "labelPadding": 1, "titleFont": "Liberation Sans", "titleFontSize": 6, "titleFontWeight": "bold", "titlePadding": 2}},
    "order": {"field": "i", "type": "quantitative"}},
   "layer": [
    {"transform": [{"filter": "datum.s == 'ref'"}], "mark": {"type": "line", "color": "#e2b9a8", "strokeWidth": 1}, "encoding": {}},
    {"transform": [{"filter": "datum.s != 'ref'"}], "mark": {"type": "line", "strokeWidth": 1},
     "encoding": {"color": {"field": "s", "type": "nominal", "scale": {"domain": ["3-O-Methyldopa", "Ethyl-N2-acetyl-L-argininate", "L-Phenylalanine", "N-Acetylleucine", "Nicotinic acid"], "range": ["#5a5ad2", "#3f9a3f", "#e6a07a", "#8fd08f", "#e28ee2"]}, "legend": {"orient": "bottom-right", "title": null, "labelFontSize": 5.5, "labelFont": "Liberation Sans", "symbolType": "stroke", "symbolSize": 300, "symbolStrokeWidth": 1, "rowPadding": 0, "strokeColor": "#000", "fillColor": "white", "padding": 3, "offset": 1, "labelLimit": 200}}}}
   ]},
  {"title": {"text": "Week 6", "font": "Liberation Sans", "fontSize": 6, "fontWeight": "bold", "offset": 3, "subtitlePadding": 0}, "width": 168, "height": 84, "view": {"stroke": null}, "data": {"name": "roc"}, "transform": [{"filter": "datum.c == 2"}],
   "encoding": {
    "x": {"field": "x", "type": "quantitative", "title": "Specificity", "scale": {"domain": [0, 100], "nice": false}, "axis": {"values": [0, 20, 40, 60, 80, 100], "labelOverlap": false, "domain": true, "domainColor": "#000", "ticks": true, "tickSize": 2, "tickColor": "#000", "labelFont": "Liberation Sans", "labelFontSize": 5, "labelFontWeight": "normal", "labelPadding": 1, "titleFont": "Liberation Sans", "titleFontSize": 6, "titleFontWeight": "bold", "titlePadding": 2}},
    "y": {"field": "y", "type": "quantitative", "title": "Sensitivity", "scale": {"domain": [0, 100], "nice": false}, "axis": {"values": [0, 20, 40, 60, 80, 100], "labelOverlap": false, "domain": true, "domainColor": "#000", "ticks": true, "tickSize": 2, "tickColor": "#000", "labelFont": "Liberation Sans", "labelFontSize": 5, "labelFontWeight": "normal", "labelColor": "black", "labelPadding": 1, "titleFont": "Liberation Sans", "titleFontSize": 6, "titleFontWeight": "bold", "titlePadding": 2}},
    "order": {"field": "i", "type": "quantitative"}},
   "layer": [
    {"transform": [{"filter": "datum.s == 'ref'"}], "mark": {"type": "line", "color": "#e2b9a8", "strokeWidth": 1}, "encoding": {}},
    {"transform": [{"filter": "datum.s != 'ref'"}], "mark": {"type": "line", "strokeWidth": 1},
     "encoding": {"color": {"field": "s", "type": "nominal", "scale": {"domain": ["3-O-Methyldopa", "Ethyl-N2-acetyl-L-argininate", "L-Phenylalanine", "N-Acetylleucine", "Nicotinic acid"], "range": ["#5a5ad2", "#3f9a3f", "#e6a07a", "#8fd08f", "#e28ee2"]}, "legend": {"orient": "bottom-right", "title": null, "labelFontSize": 5.5, "labelFont": "Liberation Sans", "symbolType": "stroke", "symbolSize": 300, "symbolStrokeWidth": 1, "rowPadding": 0, "strokeColor": "#000", "fillColor": "white", "padding": 3, "offset": 1, "labelLimit": 200}}}}
   ]}
 ], "spacing": 5, "resolve": {"scale": {"color": "independent"}}},
 {"width": 185, "height": 90, "view": {"stroke": null}, "data": {"name": "roc"}, "transform": [{"filter": "datum.c == 3"}],
   "encoding": {
    "x": {"field": "x", "type": "quantitative", "title": "Specificity", "scale": {"domain": [0, 100], "nice": false}, "axis": {"values": [0, 20, 40, 60, 80, 100], "labelOverlap": false, "domain": true, "domainColor": "#000", "ticks": true, "tickSize": 2, "tickColor": "#000", "labelFont": "Liberation Sans", "labelFontSize": 5, "labelFontWeight": "normal", "labelPadding": 1, "titleFont": "Liberation Sans", "titleFontSize": 6, "titleFontWeight": "bold", "titlePadding": 2}},
    "y": {"field": "y", "type": "quantitative", "title": "Sensitivity", "scale": {"domain": [0, 100], "nice": false}, "axis": {"values": [0, 20, 40, 60, 80, 100], "labelOverlap": false, "domain": true, "domainColor": "#000", "ticks": true, "tickSize": 2, "tickColor": "#000", "labelFont": "Liberation Sans", "labelFontSize": 5, "labelFontWeight": "normal", "labelColor": "black", "labelPadding": 1, "titleFont": "Liberation Sans", "titleFontSize": 6, "titleFontWeight": "bold", "titlePadding": 2}},
    "order": {"field": "i", "type": "quantitative"}},
   "layer": [
    {"transform": [{"filter": "datum.s == 'ref'"}], "mark": {"type": "line", "color": "#7f86c8", "strokeWidth": 1}, "encoding": {}},
    {"transform": [{"filter": "datum.s != 'ref'"}], "mark": {"type": "line", "strokeWidth": 1},
     "encoding": {"color": {"field": "s", "type": "nominal", "scale": {"domain": ["TyrosylAspartate (week 3)", "ValylLeucine (week 3)", "TyrosylAspartate (week 6)", "ValylLeucine (week 6)"], "range": ["#6a6ad8", "#f0a048", "#c9c36a", "#3fa03f"]}, "legend": {"orient": "bottom-right", "title": null, "labelFontSize": 5.5, "labelFont": "Liberation Sans", "symbolType": "stroke", "symbolSize": 300, "symbolStrokeWidth": 1, "rowPadding": 0, "strokeColor": "#000", "fillColor": "white", "padding": 3, "offset": 1, "labelLimit": 200}}}}
   ]}
], "spacing": 28, "resolve": {"scale": {"color": "independent"}}}
]
}
